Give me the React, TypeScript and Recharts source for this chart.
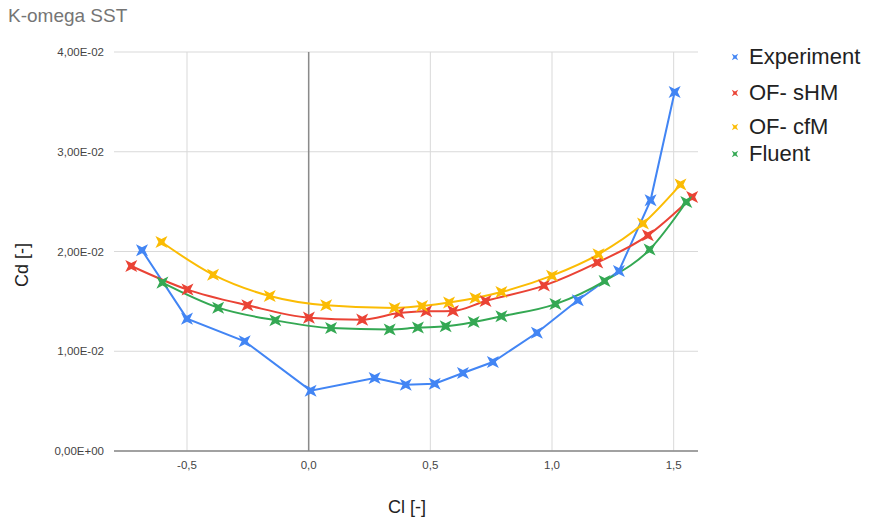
import React from "react";
import { LineChart, Line, XAxis, YAxis, CartesianGrid, ReferenceLine } from "recharts";

// Cl / Cd pairs, one pair of arrays per series
const expCl = [-0.685, -0.5, -0.263, 0.008, 0.271, 0.399, 0.518, 0.634, 0.757, 0.938, 1.106, 1.275, 1.405, 1.504];
const expCd = [0.02012, 0.01327, 0.011, 0.00605, 0.00732, 0.00665, 0.00675, 0.00782, 0.00892, 0.01185, 0.01511, 0.01805, 0.02513, 0.03599];

const shmCl = [-0.729, -0.498, -0.252, 0.001, 0.22, 0.371, 0.483, 0.593, 0.727, 0.967, 1.186, 1.394, 1.576];
const shmCd = [0.01855, 0.01618, 0.01461, 0.01337, 0.01317, 0.01383, 0.014, 0.01404, 0.01504, 0.01658, 0.01889, 0.02162, 0.02547];

const cfmCl = [-0.605, -0.393, -0.16, 0.072, 0.353, 0.466, 0.577, 0.685, 0.792, 1.0, 1.191, 1.374, 1.528];
const cfmCd = [0.02095, 0.01768, 0.01554, 0.01461, 0.01434, 0.01454, 0.01488, 0.01534, 0.01594, 0.01758, 0.01972, 0.0228, 0.02671];

const fluCl = [-0.601, -0.372, -0.137, 0.092, 0.333, 0.449, 0.563, 0.678, 0.792, 1.014, 1.216, 1.401, 1.552];
const fluCd = [0.01688, 0.01437, 0.0131, 0.01232, 0.01217, 0.01237, 0.0125, 0.01293, 0.0135, 0.01473, 0.01704, 0.02019, 0.02496];

const xTicks = [-0.5, 0, 0.5, 1.0, 1.5];
const yTicks = [0, 0.01, 0.02, 0.03, 0.04];
const xDomain = [-0.8, 1.6];

const zip = (xs: number[], ys: number[]) => xs.map((cl, i) => ({ cl, cd: ys[i] }));

const series = [
  { name: "Experiment", color: "#4285f4", type: "linear", data: zip(expCl, expCd) },
  { name: "OF- sHM", color: "#ea4335", type: "monotone", data: zip(shmCl, shmCd) },
  { name: "OF- cfM", color: "#fbbc04", type: "monotone", data: zip(cfmCl, cfmCd) },
  { name: "Fluent", color: "#34a853", type: "monotone", data: zip(fluCl, fluCd) },
];

const FONT = "'Liberation Sans', Arial, sans-serif";

function starPath(cx: number, cy: number, r: number, ri: number) {
  let d = "";
  for (let i = 0; i < 8; i++) {
    const a = (i * Math.PI) / 4;
    const rad = i % 2 === 0 ? ri : r;
    const px = cx + rad * Math.cos(a);
    const py = cy + rad * Math.sin(a);
    d += (i === 0 ? "M" : "L") + px.toFixed(2) + "," + py.toFixed(2);
  }
  return d + "Z";
}

const makeDot = (color: string) => (props: any) => {
  const { cx, cy, index } = props;
  if (cx == null || cy == null) return null;
  return <path key={index} d={starPath(cx, cy, 8.5, 3)} fill={color} />;
};

const fmtX = (v: number) => v.toFixed(1).replace(".", ",");
const fmtY = (v: number) => {
  if (v === 0) return "0,00E+00";
  const [m, e] = v.toExponential(2).split("e");
  const exp = parseInt(e, 10);
  const sign = exp < 0 ? "-" : "+";
  return m.replace(".", ",") + "E" + sign + String(Math.abs(exp)).padStart(2, "0");
};

// vertical grid only at the tick values, not at the plot edges
const vGrid = (args: any) => {
  const { xAxis, offset } = args;
  if (xAxis && typeof xAxis.scale === "function") {
    return xTicks.map((t) => xAxis.scale(t));
  }
  return xTicks.map((t) => offset.left + ((t - xDomain[0]) / (xDomain[1] - xDomain[0])) * offset.width);
};

const legendRows = [57, 93, 127, 154];

export default function App() {
  return (
    <div style={{ position: "absolute", left: 0, top: 0, width: 871, height: 524, background: "#fff", fontFamily: FONT }}>
      <div style={{ position: "absolute", left: 8, top: 5, fontSize: 19, color: "#757575" }}>K-omega SST</div>

      <LineChart width={871} height={524} margin={{ top: 52, right: 173, bottom: 43, left: 0 }}>
        <CartesianGrid stroke="#d9d9d9" strokeWidth={1} verticalCoordinatesGenerator={vGrid} />
        <XAxis
          type="number"
          dataKey="cl"
          domain={xDomain}
          ticks={xTicks}
          tickFormatter={fmtX}
          allowDuplicatedCategory={false}
          height={30}
          tickLine={false}
          axisLine={{ stroke: "#888", strokeWidth: 1.5 }}
          tick={{ fontSize: 11.5, fill: "#444", fontFamily: FONT }}
          tickMargin={4}
        />
        <YAxis
          type="number"
          dataKey="cd"
          domain={[0, 0.04]}
          ticks={yTicks}
          tickFormatter={fmtY}
          width={114}
          tickLine={false}
          axisLine={false}
          tick={{ fontSize: 11.5, fill: "#444", fontFamily: FONT }}
          tickMargin={4}
        />
        <ReferenceLine x={0} stroke="#8a8a8a" strokeWidth={1.5} />
        {series.map((s) => (
          <Line
            key={s.name}
            data={s.data}
            dataKey="cd"
            name={s.name}
            type={s.type as any}
            stroke={s.color}
            strokeWidth={2}
            dot={makeDot(s.color)}
            activeDot={false}
            isAnimationActive={false}
          />
        ))}
      </LineChart>

      <div
        style={{
          position: "absolute",
          left: 22,
          top: 265,
          transform: "translate(-50%, -50%) rotate(-90deg)",
          fontSize: 18,
          color: "#222",
          whiteSpace: "nowrap",
        }}
      >
        Cd [-]
      </div>
      <div
        style={{
          position: "absolute",
          left: 407,
          top: 507,
          transform: "translate(-50%, -50%)",
          fontSize: 18,
          color: "#222",
          whiteSpace: "nowrap",
        }}
      >
        Cl [-]
      </div>

      {series.map((s, i) => (
        <div key={s.name} style={{ position: "absolute", left: 728, top: legendRows[i], transform: "translateY(-50%)", display: "flex", alignItems: "center" }}>
          <svg width={14} height={14} style={{ marginRight: 7 }}>
            <path d={starPath(7, 7, 4.5, 1.5)} fill={s.color} />
          </svg>
          <span style={{ fontSize: 22, color: "#222", whiteSpace: "nowrap" }}>{s.name}</span>
        </div>
      ))}
    </div>
  );
}
